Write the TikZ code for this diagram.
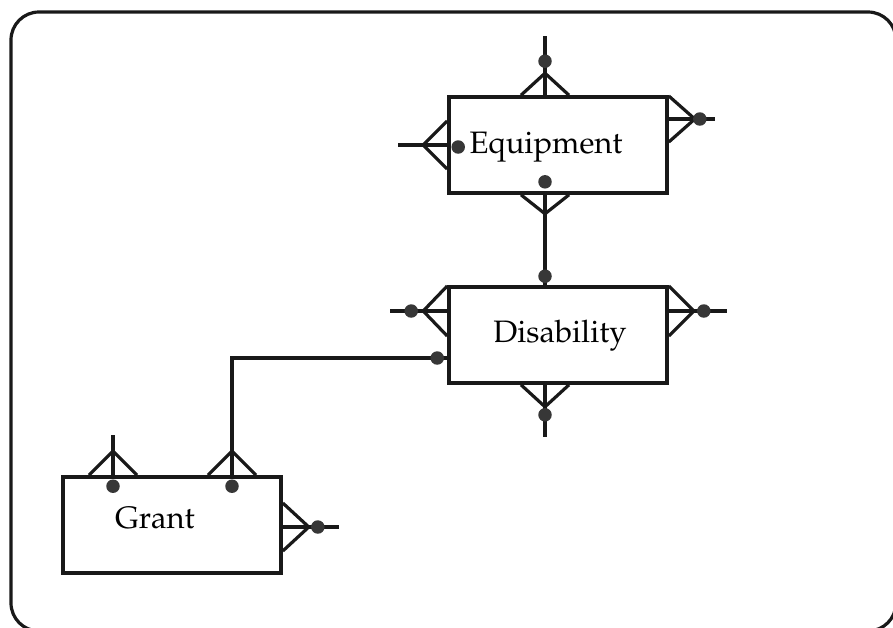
\documentclass[tikz,border=0pt]{standalone}
\usepackage[T1]{fontenc}
\usepackage{mathpazo}
\usetikzlibrary{positioning,calc}
\definecolor{myink}{RGB}{25,25,25}
\definecolor{mydot}{RGB}{55,55,55}
% crow's foot: attach point, apex offset, half-width offset
\newcommand\crowfoot[3]{
  \draw[link] ($(#1)+(#3)$) -- ($(#1)+(#2)$) -- ($(#1)-(#3)$);
}

\begin{document}
\begin{tikzpicture}[x=1pt,y=-1pt,
		entity/.style={
		  draw=myink,
		  line width=3.6pt,
		  fill=white,
		  minimum width=218pt,
		  minimum height=96pt,
		  inner sep=0pt},
		entname/.style={
		  font={\fontsize{31}{36}\selectfont},
		  inner sep=0pt,
		  anchor=base},
		link/.style={draw=myink,line width=3.2pt},
		dot/.style={circle,fill=mydot,inner sep=0pt,minimum size=13.5pt},
		]
		\useasboundingbox (0,0) rectangle (893,627);
		\draw[link,rounded corners=28pt] (11,12) rectangle (896,631);
		% entities
		\node[entity] (equip) at (558,145) {};
		\node[entity] (disab) at (558,335) {};
		\node[entity] (grant) at (172,525) {};
		\node[entname] (equipT) at ($(equip.center)+(-12,8)$) {Equipment};
		\node[entname] (disabT) at ($(disab.center)+(2,7)$) {Disability};
		\node[entname] (grantT) at ($(grant.center)+(-17,3)$) {Grant};
		% attach points
		\coordinate (eqTop) at ($(equip.north)+(-13,0)$);
		\coordinate (eqBot) at ($(equip.south)+(-13,0)$);
		\coordinate (eqRight) at ($(equip.east)+(0,-26)$);
		\coordinate (diTop) at ($(disab.north)+(-13,0)$);
		\coordinate (diBot) at ($(disab.south)+(-13,0)$);
		\coordinate (diLeft) at ($(disab.west)+(0,-24)$);
		\coordinate (diLow) at ($(disab.west)+(0,23)$);
		\coordinate (diRight) at ($(disab.east)+(0,-24)$);
		\coordinate (grTopA) at ($(grant.north)+(-59,0)$);
		\coordinate (grTopB) at ($(grant.north)+(60,0)$);
		\coordinate (grRight) at ($(grant.east)+(0,2)$);
		% free ends
		\coordinate (eqTopEnd) at ($(eqTop)+(0,-59)$);
		\coordinate (eqLeftEnd) at ($(equip.west)+(-49,0)$);
		\coordinate (eqRightEnd) at ($(eqRight)+(46,0)$);
		\coordinate (diLeftEnd) at ($(diLeft)+(-57,0)$);
		\coordinate (diRightEnd) at ($(diRight)+(58,0)$);
		\coordinate (diBotEnd) at ($(diBot)+(0,52)$);
		\coordinate (grTopAEnd) at ($(grTopA)+(0,-40)$);
		\coordinate (grRightEnd) at ($(grRight)+(56,0)$);
		% relationships
		\draw[link] (eqTopEnd) -- (eqTop);
		\draw[link] (eqLeftEnd) -- (equip.west);
		\draw[link] (eqRight) -- (eqRightEnd);
		\draw[link] (eqBot) -- (diTop);
		\draw[link] (diLeftEnd) -- (diLeft);
		\draw[link] (diRight) -- (diRightEnd);
		\draw[link] (diBot) -- (diBotEnd);
		\draw[link] (diLow) -| (grTopB);
		\draw[link] (grTopAEnd) -- (grTopA);
		\draw[link] (grRight) -- (grRightEnd);
		% crow's feet
		\crowfoot{eqTop}{0,-22}{24,0}
		\crowfoot{equip.west}{-24,0}{0,24}
		\crowfoot{eqRight}{26,0}{0,23}
		\crowfoot{eqBot}{0,19}{24,0}
		\crowfoot{diLeft}{-24,0}{0,25}
		\crowfoot{diRight}{25,0}{0,25}
		\crowfoot{diBot}{0,22}{24,0}
		\crowfoot{grTopA}{0,-24}{24,0}
		\crowfoot{grTopB}{0,-24}{24,0}
		\crowfoot{grRight}{26,0}{0,24}
		% optionality dots
		\node[dot] (eqTopD) at ($(eqTop)+(0,-34)$) {};
		\node[dot] (eqLeftD) at ($(equip.west)+(11,2)$) {};
		\node[dot] (eqRightD) at ($(eqRight)+(31,0)$) {};
		\node[dot] (eqBotD) at ($(eqBot)+(0,-13)$) {};
		\node[dot] (diTopD) at ($(diTop)+(0,-9)$) {};
		\node[dot] (diLeftD) at ($(diLeft)+(-36,0)$) {};
		\node[dot] (diLowD) at ($(diLow)+(-10,0)$) {};
		\node[dot] (diRightD) at ($(diRight)+(35,0)$) {};
		\node[dot] (diBotD) at ($(diBot)+(0,30)$) {};
		\node[dot] (grTopAD) at ($(grTopA)+(0,11)$) {};
		\node[dot] (grTopBD) at ($(grTopB)+(0,11)$) {};
		\node[dot] (grRightD) at ($(grRight)+(35,0)$) {};
\end{tikzpicture}
\end{document}
